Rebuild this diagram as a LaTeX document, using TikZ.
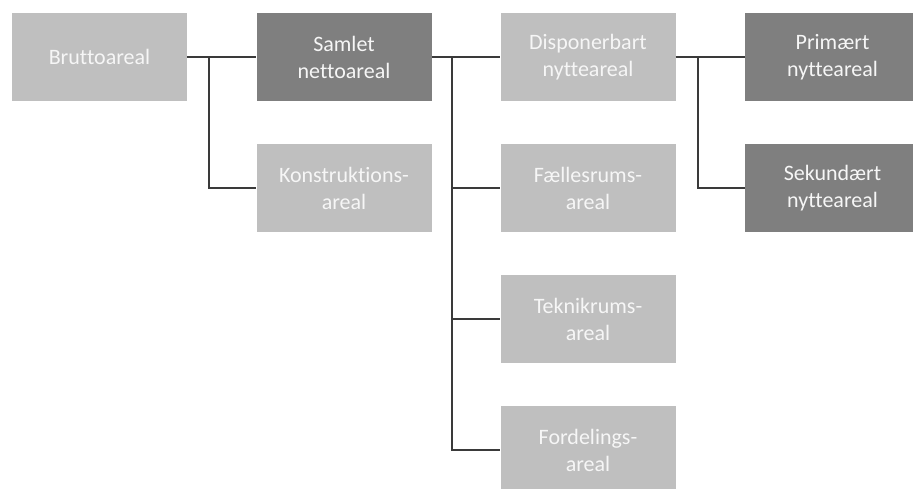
\documentclass[tikz,border=0pt]{standalone}
\usepackage{fontspec}
\setmainfont{Carlito}[Ligatures=NoCommon]
\definecolor{boxlight}{HTML}{BFBFBF}
\definecolor{boxdark}{HTML}{7F7F7F}
\definecolor{linkgray}{HTML}{3A3A3A}
\definecolor{labelwhite}{HTML}{F6F6F6}
\tikzset{
  area/.style={rectangle, minimum width=175pt, minimum height=88pt, inner sep=0pt,
    align=center, text=labelwhite, font=\fontsize{22}{27}\selectfont},
  arealight/.style={area, fill=boxlight},
  areadark/.style={area, fill=boxdark},
  link/.style={draw=linkgray, line width=2pt}
}
\begin{document}
\begin{tikzpicture}[x=1pt,y=-1pt]
\clip (0,0) rectangle (913,489);
\fill[white] (0,0) rectangle (913,489);

% first column
\node[arealight] (brutto) at (99.5,57) {Bruttoareal};
% second column
\node[areadark]  (samlet) at (344,57) {Samlet\\nettoareal};
\node[arealight] (konstr) at (344,188) {Konstruktions-\\areal};
% third column
\node[arealight] (dispon) at (588,57) {Disponerbart\\nytteareal};
\node[arealight] (faelles) at (588,188) {Fællesrums-\\areal};
\node[arealight] (teknik) at (588,319) {Teknikrums-\\areal};
\node[arealight] (fordel) at (588,450) {Fordelings-\\areal};
% fourth column
\node[areadark]  (primaer) at (832.5,57) {Primært\\nytteareal};
\node[areadark]  (sekund) at (832.5,188) {Sekundært\\nytteareal};

% branch points
\coordinate (j1) at (209,57);
\coordinate (j2) at (452,57);
\coordinate (j3) at (698,57);

% connectors
\draw[link] (brutto.east) -- (samlet.west);
\draw[link] (j1) |- (konstr.west);

\draw[link] (samlet.east) -- (dispon.west);
\draw[link] (j2) |- (fordel.west);
\draw[link] (j2 |- faelles.west) -- (faelles.west);
\draw[link] (j2 |- teknik.west) -- (teknik.west);

\draw[link] (dispon.east) -- (primaer.west);
\draw[link] (j3) |- (sekund.west);
\end{tikzpicture}
\end{document}
